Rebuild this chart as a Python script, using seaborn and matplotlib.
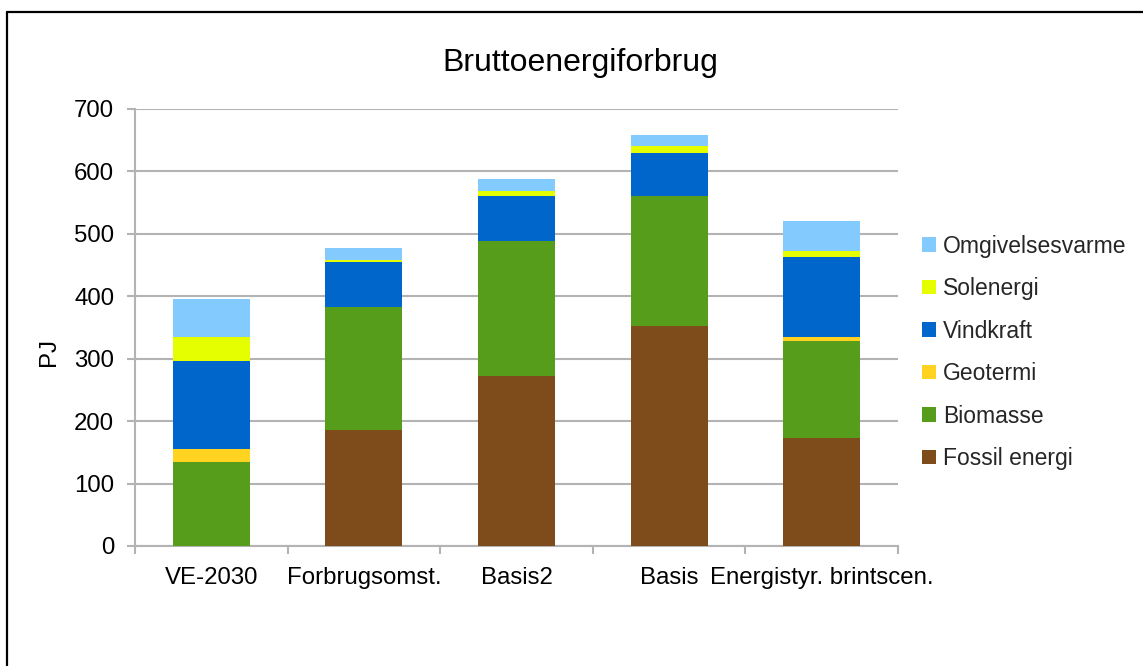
import matplotlib
matplotlib.use("Agg")
import matplotlib.pyplot as plt
import seaborn as sns
import pandas as pd
import numpy as np
from matplotlib.lines import Line2D
from matplotlib.patches import Patch
from matplotlib.ticker import FixedLocator

categories = ["VE-2030", "Forbrugsomst.", "Basis2", "Basis", "Energistyr. brintscen."]
fossil = [0, 186, 272, 353, 173]
biomasse = [135, 197, 216, 207, 155]
geotermi = [20, 0, 0, 0, 7]
vindkraft = [141, 72, 72, 70, 128]
solenergi = [39, 3, 9, 10, 10]
omgivelsesvarme = [61, 19, 19, 18, 48]

series_names = ["Fossil energi", "Biomasse", "Geotermi", "Vindkraft", "Solenergi", "Omgivelsesvarme"]
series_values = [fossil, biomasse, geotermi, vindkraft, solenergi, omgivelsesvarme]
colors = ["#7E4B1A", "#579D1C", "#FFD320", "#0066CC", "#E6FF00", "#83CAFF"]

title = "Bruttoenergiforbrug"
ylabel = "PJ"
yticks = [0, 100, 200, 300, 400, 500, 600, 700]

sns.set_theme(style="white")
plt.rcParams["font.family"] = ["Liberation Sans", "DejaVu Sans"]

fig = plt.figure(figsize=(11.43, 6.66), dpi=100)
ax = fig.add_axes([135/1143, 1-546/666, (898-135)/1143, (546-109)/666])

cum = np.cumsum(np.array(series_values), axis=0)
# draw from the top layer down so each lower layer overlays
for i in range(len(series_names)-1, -1, -1):
    df = pd.DataFrame({"cat": categories, "val": cum[i]})
    sns.barplot(data=df, x="cat", y="val", order=categories, color=colors[i],
                width=0.505, linewidth=0, saturation=1, ax=ax, zorder=3)

ax.set_ylim(0, 700)
ax.set_xlim(-0.5, len(categories)-0.5)
ax.set_yticks(yticks)
ax.set_yticklabels([str(t) for t in yticks])
ax.grid(axis="y", color="#B3B3B3", linewidth=1.5, zorder=0)
ax.grid(axis="x", visible=False)
for s in ["top", "right"]:
    ax.spines[s].set_visible(False)
for s in ["left", "bottom"]:
    ax.spines[s].set_color("#B3B3B3")
    ax.spines[s].set_linewidth(1.5)

ax.xaxis.set_minor_locator(FixedLocator(np.arange(-0.5, len(categories), 1.0)))
ax.tick_params(axis="x", which="major", length=0, pad=15, labelsize=17.3, colors="black")
ax.tick_params(axis="x", which="minor", length=6, width=1.5, color="#B3B3B3", bottom=True)
ax.tick_params(axis="y", which="major", length=6, width=1.5, color="#B3B3B3", left=True,
               labelsize=17.3, labelcolor="black", pad=9)
ax.set_xlabel("")
ax.set_ylabel(ylabel, fontsize=17.3, color="black")
ax.yaxis.set_label_coords(-0.098, 0.444)

handles = [Patch(facecolor=colors[i], edgecolor="none", label=series_names[i])
           for i in range(len(series_names)-1, -1, -1)]
ax.legend(handles=handles, loc="center left", bbox_to_anchor=(1.02, 0.443), frameon=False,
          fontsize=16.5, handlelength=0.6, handleheight=0.6, handletextpad=0.3,
          labelspacing=0.85, borderaxespad=0)

fig.text(580/1143, 1-63/666, title, ha="center", va="center", fontsize=23, color="black")

fig.add_artist(Line2D([7/1143, 7/1143], [0, 1-12/666], color="black", linewidth=1.6,
                      transform=fig.transFigure))
fig.add_artist(Line2D([7/1143, 1], [1-12/666, 1-12/666], color="black", linewidth=1.6,
                      transform=fig.transFigure))

fig.savefig("out.png", dpi=100, facecolor="white")
